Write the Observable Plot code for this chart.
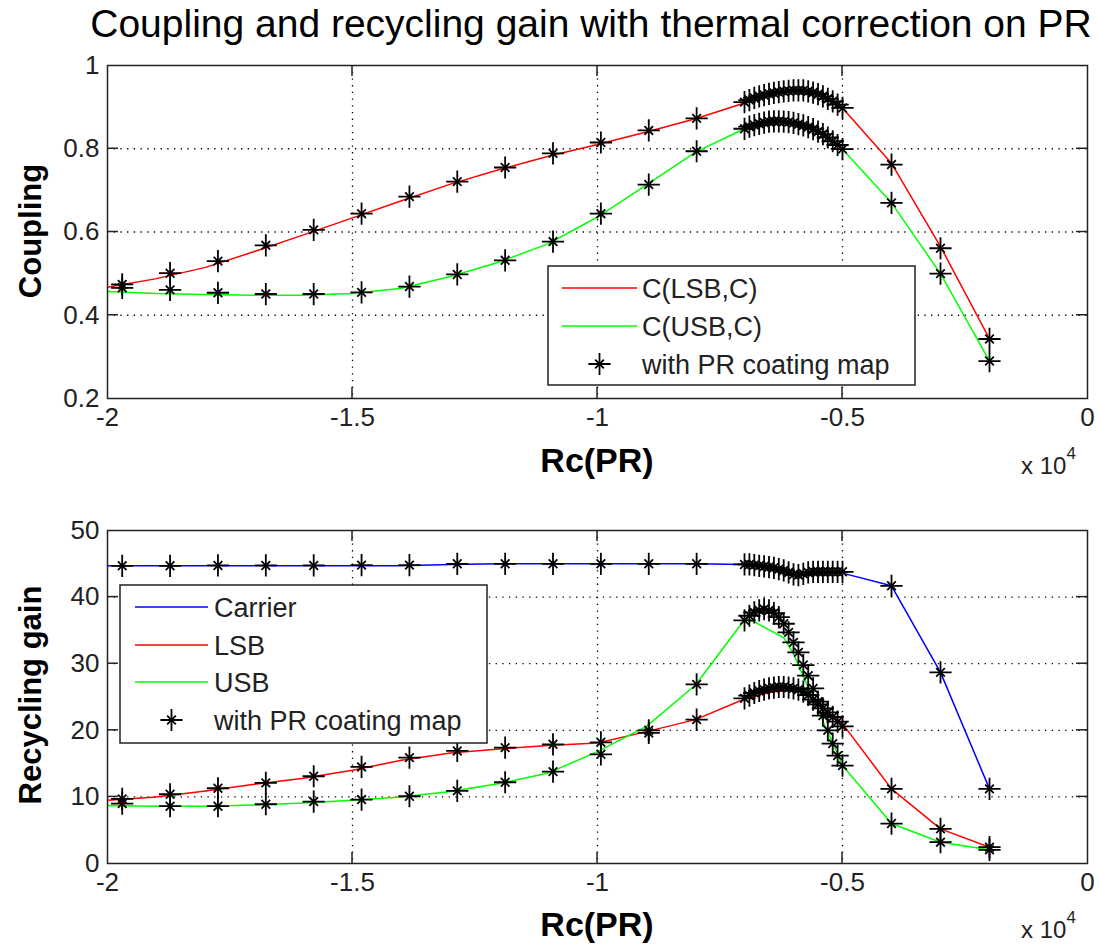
<!DOCTYPE html>
<html><head><meta charset="utf-8">
<script src="https://cdn.jsdelivr.net/npm/d3@7"></script>
<script src="https://cdn.jsdelivr.net/npm/@observablehq/plot@0.6"></script>
<style>
body{margin:0;background:#fff}
#c{width:1099px;height:948px;position:relative;overflow:hidden}
#c svg{display:block}
</style>
</head><body><div id="c"></div>
<script>
// ---------- tick labels ----------
const xTicks = [-20000, -15000, -10000, -5000, 0];
const xTickLabels = ["-2", "-1.5", "-1", "-0.5", "0"];
const couplingTicks = [0.2, 0.4, 0.6, 0.8, 1];
const couplingTickLabels = ["0.2", "0.4", "0.6", "0.8", "1"];
const gainTicks = [0, 10, 20, 30, 40, 50];
const gainTickLabels = ["0", "10", "20", "30", "40", "50"];

// ---------- star (with PR coating map) abscissae ----------
const starRc = [-19700, -18723, -17746, -16769, -15792, -14815, -13838, -12862, -11885, -10908, -9931, -8954, -7977,
  -7000, -6900, -6800, -6700, -6600, -6500, -6400, -6300, -6200, -6100, -6000, -5900, -5800, -5700, -5600, -5500, -5400, -5300, -5200, -5100, -5000,
  -4000, -3000, -2000];

// ---------- coupling, top panel ----------
const couplingLineRc = [-20000, -19000, -18000, -17000, -16000, -15000, -14000, -13000, -12000, -11000, -10000, -9000, -8000, -7000,
  -6500, -6000, -5500, -5000, -4000, -3000, -2000];
const couplingLSB = [0.467, 0.488, 0.515, 0.553, 0.593, 0.634, 0.675, 0.715, 0.750, 0.782, 0.810, 0.840, 0.872, 0.910,
  0.930, 0.939, 0.931, 0.898, 0.765, 0.565, 0.343];
const couplingUSB = [0.457, 0.452, 0.450, 0.448, 0.448, 0.452, 0.465, 0.493, 0.528, 0.572, 0.636, 0.713, 0.792, 0.848,
  0.864, 0.862, 0.841, 0.799, 0.670, 0.500, 0.290];
const couplingLSBStars = [0.474, 0.501, 0.530, 0.568, 0.605, 0.644, 0.685, 0.721, 0.755, 0.789, 0.815, 0.844, 0.873,
  0.912, 0.917, 0.922, 0.926, 0.929, 0.932, 0.934, 0.936, 0.938, 0.939, 0.940, 0.940, 0.940, 0.938, 0.935, 0.931, 0.926, 0.920, 0.914, 0.906, 0.898,
  0.762, 0.561, 0.343];
const couplingUSBStars = [0.466, 0.461, 0.454, 0.451, 0.451, 0.455, 0.469, 0.498, 0.532, 0.577, 0.644, 0.714, 0.794,
  0.848, 0.853, 0.857, 0.860, 0.863, 0.865, 0.866, 0.866, 0.865, 0.864, 0.862, 0.859, 0.856, 0.852, 0.847, 0.841, 0.835, 0.827, 0.818, 0.809, 0.799,
  0.670, 0.500, 0.290];

// ---------- recycling gain, bottom panel ----------
const gainLineRc = [-20000, -19000, -18000, -17000, -16000, -15000, -14000, -13000, -12000, -11000, -10000, -9000, -8000, -7000,
  -6800, -6600, -6400, -6200, -6000, -5800, -5600, -5400, -5200, -5000, -4000, -3000, -2000];
const gainCarrier = [44.7, 44.7, 44.7, 44.7, 44.7, 44.7, 44.7, 44.9, 45.0, 45.0, 45.0, 45.0, 45.0, 44.9,
  44.7, 44.5, 44.3, 44.0, 43.4, 43.5, 43.6, 43.6, 43.6, 43.6, 41.7, 28.7, 11.2];
const gainLSB = [9.5, 10.0, 10.9, 11.9, 12.8, 14.0, 15.5, 16.6, 17.2, 17.7, 18.1, 19.8, 21.6, 24.7,
  25.1, 25.5, 25.8, 25.9, 26.0, 25.9, 24.8, 23.4, 22.2, 21.0, 11.2, 5.2, 2.45];
const gainUSB = [8.7, 8.6, 8.6, 8.8, 9.1, 9.5, 10.0, 10.8, 12.0, 13.6, 16.8, 20.6, 26.8, 36.6,
  36.3, 35.5, 34.7, 33.9, 31.5, 28.1, 24.8, 21.4, 18.1, 14.7, 6.0, 3.2, 2.05];
const gainCarrierStars = [44.7, 44.7, 44.75, 44.75, 44.75, 44.8, 44.8, 45.0, 45.0, 45.0, 45.0, 45.0, 45.0,
  44.9, 44.9, 44.8, 44.7, 44.6, 44.5, 44.4, 44.2, 44.0, 43.7, 43.4, 43.3, 43.5, 43.7, 43.8, 43.8, 43.8, 43.8, 43.8, 43.8, 43.8,
  41.7, 28.7, 11.2];
const gainLSBStars = [9.7, 10.4, 11.3, 12.1, 13.1, 14.5, 15.9, 16.9, 17.4, 17.9, 18.2, 20.0, 21.6,
  24.8, 25.2, 25.6, 25.9, 26.1, 26.3, 26.4, 26.5, 26.5, 26.4, 26.3, 26.1, 25.8, 25.3, 24.6, 23.9, 23.3, 22.7, 22.0, 21.3, 20.6,
  11.2, 5.2, 2.45];
const gainUSBStars = [9.0, 8.6, 8.6, 8.9, 9.3, 9.6, 10.1, 10.9, 12.2, 13.8, 16.4, 19.6, 26.9,
  36.5, 37.2, 37.7, 38.0, 38.2, 38.0, 37.6, 37.0, 36.0, 34.7, 33.2, 31.7, 29.8, 28.2, 26.3, 24.3, 22.2, 20.0, 18.0, 16.2, 14.7,
  6.0, 3.2, 2.05];

// ---------- text ----------
const titleText = "Coupling and recycling gain with thermal correction on PR";
const xLabel = "Rc(PR)";
const couplingLegend = [["C(LSB,C)", "#ff0000"], ["C(USB,C)", "#00ff00"], ["with PR coating map", null]];
const gainLegend = [["Carrier", "#0000ff"], ["LSB", "#ff0000"], ["USB", "#00ff00"], ["with PR coating map", null]];

const FONT = "'Liberation Sans', Arial, Helvetica, sans-serif";
const W = 1099, ML = 107, MR = 12;
const PLUS_R = 7.2, TIMES_R = 4.0, STAR_W = 1.8;
const pairs = (xs, ys) => xs.map((x, i) => [x, ys[i]]);

function panel({h, mt, mb, yDomain, yTicks, yLabels, lines, stars}) {
  const yGrid = yTicks.slice(1, -1);
  const marks = [
    Plot.gridX([-15000, -10000, -5000], {stroke: "#000", strokeOpacity: 1, strokeWidth: 1.3, strokeDasharray: "1.3,5.4"}),
    Plot.gridY(yGrid, {stroke: "#000", strokeOpacity: 1, strokeWidth: 1.3, strokeDasharray: "1.3,5.4"}),
    ...lines.map(([xs, ys, c]) => Plot.line(pairs(xs, ys), {stroke: c, strokeWidth: 1.5})),
    ...stars.map(ys => Plot.dot(pairs(starRc, ys), {symbol: "plus", r: PLUS_R, stroke: "#000", strokeWidth: STAR_W})),
    ...stars.map(ys => Plot.dot(pairs(starRc, ys), {symbol: "times", r: TIMES_R, stroke: "#000", strokeWidth: STAR_W})),
    Plot.frame({stroke: "#222", strokeWidth: 1.5}),
    Plot.axisX(xTicks, {tickSize: 0, tickPadding: 9, tickFormat: d => xTickLabels[xTicks.indexOf(d)], label: null, fontSize: 26, fill: "#222"}),
    Plot.axisY(yTicks, {tickSize: 0, tickPadding: 8, tickFormat: d => yLabels[yTicks.indexOf(d)], label: null, fontSize: 26, fill: "#222"})
  ];
  return Plot.plot({
    width: W, height: h, marginLeft: ML, marginRight: MR, marginTop: mt, marginBottom: mb,
    style: {fontFamily: FONT, background: "white", overflow: "visible"},
    x: {domain: [-20000, 0]},
    y: {domain: yDomain},
    marks
  });
}

function decorate(svgNode, chart, {yTicks, legend, legendBox, ylabel, ylabelY, xlabelY, title}) {
  const svg = d3.select(svgNode);
  const sx = chart.scale("x"), sy = chart.scale("y");
  const x0 = sx.apply(-20000), x1 = sx.apply(0);
  const yT = sy.apply(sy.domain[1]), yB = sy.apply(sy.domain[0]);
  const g = svg.append("g").attr("stroke", "#222").attr("stroke-width", 1.5);
  for (const t of [-15000, -10000, -5000]) {
    const X = sx.apply(t);
    g.append("line").attr("x1", X).attr("x2", X).attr("y1", yB).attr("y2", yB - 11);
    g.append("line").attr("x1", X).attr("x2", X).attr("y1", yT).attr("y2", yT + 11);
  }
  for (const t of yTicks.slice(1, -1)) {
    const Y = sy.apply(t);
    g.append("line").attr("x1", x0).attr("x2", x0 + 11).attr("y1", Y).attr("y2", Y);
    g.append("line").attr("x1", x1).attr("x2", x1 - 11).attr("y1", Y).attr("y2", Y);
  }
  // legend
  const [lx, ly, lw, lh, rowY, sampleX0, sampleX1, textX] = legendBox;
  const lg = svg.append("g");
  lg.append("rect").attr("x", lx).attr("y", ly).attr("width", lw).attr("height", lh)
    .attr("fill", "white").attr("stroke", "#222").attr("stroke-width", 1.5);
  legend.forEach(([label, color], i) => {
    const Y = rowY[i];
    if (color) {
      lg.append("line").attr("x1", sampleX0).attr("x2", sampleX1).attr("y1", Y).attr("y2", Y)
        .attr("stroke", color).attr("stroke-width", 1.5);
    } else {
      const cx = (sampleX0 + sampleX1) / 2;
      lg.append("path").attr("transform", `translate(${cx},${Y})`)
        .attr("d", d3.symbol(d3.symbolPlus, PLUS_R * PLUS_R * Math.PI)())
        .attr("fill", "none").attr("stroke", "#000").attr("stroke-width", STAR_W);
      lg.append("path").attr("transform", `translate(${cx},${Y})`)
        .attr("d", d3.symbol(d3.symbolTimes, TIMES_R * TIMES_R * Math.PI)())
        .attr("fill", "none").attr("stroke", "#000").attr("stroke-width", STAR_W);
    }
    lg.append("text").attr("x", textX).attr("y", Y).attr("dy", "0.36em").attr("text-anchor", "start")
      .attr("font-family", FONT).attr("font-size", 27).attr("fill", "#222").text(label);
  });
  // labels
  svg.append("text").attr("transform", `translate(41,${ylabelY}) rotate(-90)`)
    .attr("text-anchor", "middle").attr("font-family", FONT).attr("font-weight", "bold")
    .attr("font-size", 31).attr("fill", "#000").text(ylabel);
  svg.append("text").attr("x", (x0 + x1) / 2).attr("y", xlabelY)
    .attr("text-anchor", "middle").attr("font-family", FONT).attr("font-weight", "bold")
    .attr("font-size", 34).attr("fill", "#000").text(xLabel);
  const e = svg.append("text").attr("x", 1021).attr("y", xlabelY + 2).attr("text-anchor", "start")
    .attr("font-family", FONT).attr("font-size", 24).attr("fill", "#222");
  e.append("tspan").text("x 10");
  e.append("tspan").attr("dy", -15).attr("font-size", 17).text("4");
  if (title) {
    svg.append("text").attr("x", 591).attr("y", 37).attr("text-anchor", "middle")
      .attr("font-family", FONT).attr("font-size", 39).attr("fill", "#000").text(title);
  }
}

const root = document.getElementById("c");

const topOpts = {h: 480, mt: 65, mb: 82, yDomain: [0.2, 1], yTicks: couplingTicks, yLabels: couplingTickLabels,
  lines: [[couplingLineRc, couplingLSB, "#ff0000"], [couplingLineRc, couplingUSB, "#00ff00"]],
  stars: [couplingLSBStars, couplingUSBStars]};
const topChart = panel(topOpts);
root.appendChild(topChart);
decorate(topChart, topChart, {yTicks: couplingTicks, legend: couplingLegend,
  legendBox: [548, 266, 367, 119, [288, 326, 364], 562, 637, 642],
  ylabel: "Coupling", ylabelY: 231, xlabelY: 472, title: titleText});

const botOpts = {h: 468, mt: 50, mb: 85, yDomain: [0, 50], yTicks: gainTicks, yLabels: gainTickLabels,
  lines: [[gainLineRc, gainCarrier, "#0000ff"], [gainLineRc, gainLSB, "#ff0000"], [gainLineRc, gainUSB, "#00ff00"]],
  stars: [gainCarrierStars, gainLSBStars, gainUSBStars]};
const botChart = panel(botOpts);
root.appendChild(botChart);
decorate(botChart, botChart, {yTicks: gainTicks, legend: gainLegend,
  legendBox: [120, 105, 367, 158, [127, 165, 202, 240], 135, 208, 214],
  ylabel: "Recycling gain", ylabelY: 215, xlabelY: 456, title: null});
</script>
</body></html>
